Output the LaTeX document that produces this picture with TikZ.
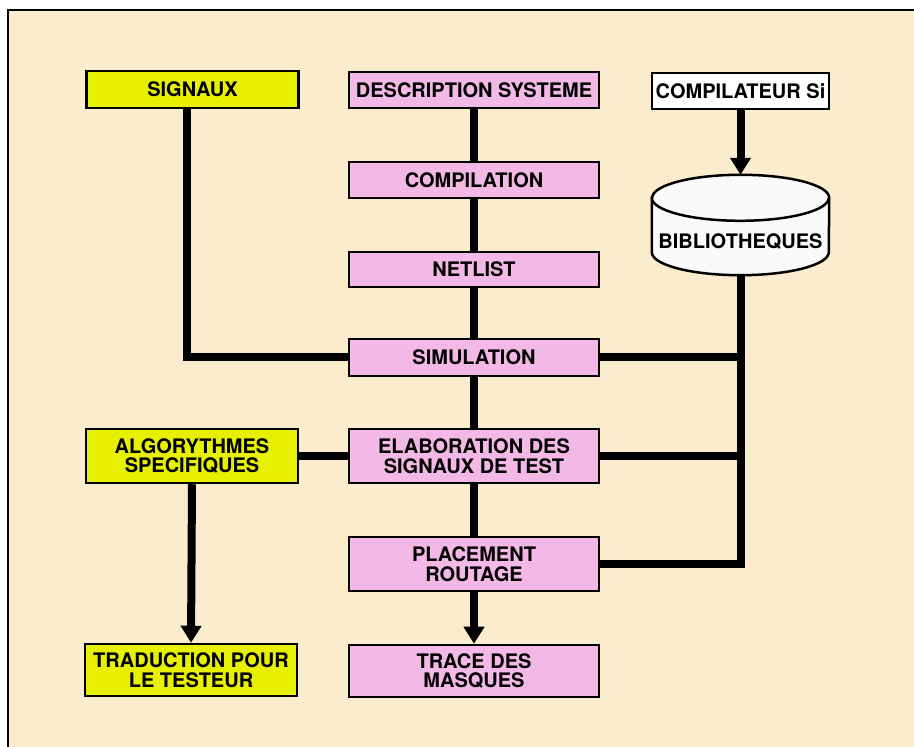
\documentclass[tikz,border=0pt]{standalone}
\usepackage{fontspec}
\setmainfont{TeX Gyre Heros}
\usetikzlibrary{arrows.meta}
\definecolor{bgbeige}{RGB}{252,236,206}
\definecolor{boxyellow}{RGB}{230,240,0}
\definecolor{boxpink}{RGB}{244,184,230}
\definecolor{cylwhite}{RGB}{250,250,250}
\tikzset{
  box/.style={draw=black, line width=2.5pt, inner sep=0pt, align=center,
    font=\fontsize{20}{19.5}\selectfont\bfseries},
  ybox/.style={box, fill=boxyellow, minimum width=212pt},
  pbox/.style={box, fill=boxpink, minimum width=250pt},
  wbox/.style={box, fill=white, minimum width=177pt, minimum height=36pt},
  cylbox/.style={inner sep=0pt, minimum width=177pt, minimum height=100pt},
  cyltext/.style={inner sep=0pt, font=\fontsize{20}{19.5}\selectfont\bfseries},
  conn/.style={line width=8pt, draw=black, line join=miter},
  arr/.style={conn, -{Triangle[width=20pt,length=17pt]}}
}
\begin{document}
\begin{tikzpicture}[x=1pt,y=1pt]
\useasboundingbox (0,0) rectangle (914,747);
% frame
\fill[white] (0,0) rectangle (914,747);
\fill[bgbeige] (8,0) rectangle (914,737);
\draw[line width=2pt] (8,0) -- (8,737) -- (914,737);

% nodes
\node[ybox, minimum height=37pt] (sig) at (192.5,657.5) {SIGNAUX};
\node[pbox, minimum height=36pt] (desc) at (474,657) {DESCRIPTION SYSTEME};
\node[wbox] (comp) at (740.5,656) {COMPILATEUR Si};
\node[pbox, minimum height=36pt] (compil) at (474,567) {COMPILATION};
\node[pbox, minimum height=35pt] (net) at (474,477.5) {NETLIST};
\node[pbox, minimum height=37pt] (sim) at (474,389.5) {SIMULATION};
\node[pbox, minimum height=54pt] (elab) at (474,291) {ELABORATION DES\\SIGNAUX DE TEST};
\node[pbox, minimum height=54pt] (place) at (474,183) {PLACEMENT\\ROUTAGE};
\node[pbox, minimum height=52pt] (trace) at (474,76) {TRACE DES\\MASQUES};
\node[ybox, minimum height=54pt] (algo) at (192,291) {ALGORYTHMES\\SPECIFIQUES};
\node[ybox, minimum height=52pt] (trad) at (191,77) {TRADUCTION POUR\\LE TESTEUR};

% cylinder
\node[cylbox] (bib) at (740.5,522) {};
\filldraw[fill=cylwhite, draw=black, line width=2.5pt]
  ([yshift=-23pt]bib.north west) -- ([yshift=23pt]bib.south west)
  arc[start angle=180, end angle=360, x radius=88.5pt, y radius=23pt]
  -- ([yshift=-23pt]bib.north east)
  arc[start angle=0, end angle=180, x radius=88.5pt, y radius=23pt] -- cycle;
\draw[line width=2.5pt] ([yshift=-23pt]bib.north west)
  arc[start angle=180, end angle=360, x radius=88.5pt, y radius=23pt];
\node[cyltext] (bibtext) at ([yshift=-17pt]bib.center) {BIBLIOTHEQUES};

% connectors
\draw[conn] ([xshift=-5.5pt]sig.south) |- (sim.west);
\draw[conn] (desc.south) -- (compil.north);
\draw[conn] (compil.south) -- (net.north);
\draw[conn] (net.south) -- (sim.north);
\draw[conn] (sim.south) -- (elab.north);
\draw[conn] (elab.south) -- (place.north);
\draw[arr] (place.south) -- (trace.north);
\draw[arr] (comp.south) -- (bib.north);
\draw[conn] (bib.south) |- (place.east);
\draw[conn] (sim.east) -- (sim.east -| bib.south);
\draw[conn] (elab.east) -- (elab.east -| bib.south);
\draw[conn] (algo.east) -- (elab.west);
\draw[arr] (algo.south) -- (trad.north);
\end{tikzpicture}
\end{document}
